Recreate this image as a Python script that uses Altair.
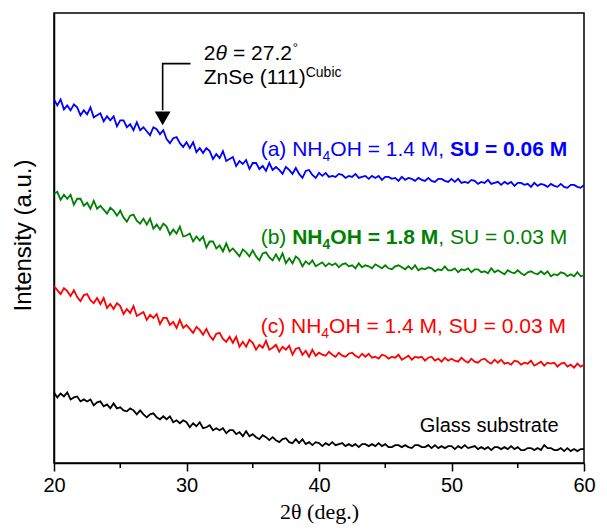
import altair as alt
import pandas as pd

# 2-theta grid (deg.), step 0.25
two_theta = [20 + 0.25 * i for i in range(161)]

blue_a = [366, 360, 366, 356, 360, 355, 361, 358, 350, 355, 351, 358, 348, 350, 352, 344,
          349, 345, 349, 339, 345, 345, 338, 341, 335, 343, 335, 338, 334, 330, 338, 336,
          331, 335, 326, 322, 327, 328, 322, 318, 323, 317, 323, 313, 317, 312, 317, 314,
          306, 311, 307, 314, 304, 306, 308, 299, 304, 301, 305, 296, 302, 302, 296, 299,
          294, 302, 295, 298, 295, 291, 298, 295, 291, 297, 291, 287, 294, 295, 290, 287,
          292, 289, 292, 288, 289, 288, 291, 290, 287, 289, 288, 291, 287, 288, 289, 286,
          289, 287, 289, 285, 288, 288, 286, 287, 284, 288, 285, 287, 286, 284, 287, 285,
          284, 287, 284, 283, 286, 286, 284, 283, 286, 283, 286, 282, 283, 282, 285, 284,
          281, 283, 282, 285, 281, 282, 283, 280, 283, 281, 283, 279, 282, 282, 280, 281,
          278, 282, 279, 281, 280, 278, 281, 279, 278, 281, 278, 277, 280, 280, 278, 277,
          280]

green_b = [271, 273, 265, 270, 266, 270, 260, 266, 266, 259, 262, 256, 264, 256, 259, 255,
           251, 257, 254, 249, 254, 247, 243, 249, 250, 244, 241, 246, 240, 246, 236, 240,
           235, 241, 238, 230, 235, 231, 238, 228, 229, 231, 223, 228, 224, 228, 217, 223,
           223, 216, 219, 213, 221, 213, 216, 212, 208, 215, 212, 208, 214, 208, 204, 211,
           212, 207, 204, 210, 204, 211, 201, 206, 201, 208, 205, 198, 203, 200, 204, 198,
           200, 202, 198, 201, 199, 201, 197, 200, 201, 198, 199, 196, 201, 197, 199, 198,
           196, 200, 198, 196, 199, 196, 195, 198, 199, 197, 195, 198, 195, 199, 194, 196,
           195, 197, 196, 193, 195, 194, 198, 194, 194, 196, 192, 195, 194, 196, 192, 195,
           195, 192, 193, 191, 196, 192, 194, 192, 190, 194, 192, 191, 194, 191, 189, 192,
           193, 191, 190, 193, 190, 193, 188, 190, 189, 192, 191, 188, 190, 188, 192, 188,
           189]

red_c = [178, 174, 170, 176, 173, 168, 174, 167, 163, 169, 170, 164, 161, 166, 160, 166,
         156, 160, 155, 161, 158, 150, 155, 151, 158, 148, 150, 152, 144, 149, 146, 150,
         140, 146, 146, 139, 142, 136, 144, 136, 139, 135, 131, 137, 134, 129, 135, 128,
         124, 130, 131, 125, 122, 127, 121, 127, 117, 122, 117, 124, 121, 114, 119, 116,
         123, 114, 116, 119, 112, 117, 114, 118, 109, 115, 116, 109, 113, 107, 114, 108,
         111, 109, 108, 112, 109, 107, 111, 108, 107, 110, 111, 108, 106, 110, 107, 110,
         106, 107, 105, 109, 108, 105, 107, 106, 109, 104, 106, 108, 104, 107, 106, 107,
         103, 106, 107, 103, 105, 102, 106, 103, 105, 103, 102, 106, 103, 101, 105, 102,
         101, 104, 105, 102, 100, 104, 101, 104, 100, 101, 99, 103, 102, 99, 101, 100,
         103, 98, 100, 102, 98, 101, 100, 101, 97, 100, 101, 97, 99, 96, 100, 97,
         99]

glass = [71, 66, 70, 67, 71, 64, 66, 67, 62, 64, 62, 64, 58, 61, 62, 57,
         59, 55, 60, 55, 56, 53, 52, 55, 53, 49, 53, 49, 46, 49, 50, 46,
         44, 47, 44, 47, 41, 43, 40, 43, 41, 36, 40, 37, 41, 35, 36, 38,
         33, 35, 33, 35, 30, 33, 33, 29, 31, 27, 32, 27, 29, 26, 24, 28,
         26, 23, 26, 23, 21, 24, 25, 21, 20, 24, 20, 24, 19, 21, 18, 21,
         20, 17, 20, 18, 21, 18, 19, 20, 17, 19, 17, 19, 16, 19, 19, 17,
         19, 17, 20, 17, 19, 16, 16, 18, 18, 16, 18, 16, 15, 18, 18, 16,
         16, 18, 15, 18, 15, 17, 15, 17, 17, 14, 17, 15, 18, 15, 16, 17,
         14, 16, 14, 16, 13, 16, 16, 14, 16, 14, 17, 14, 16, 13, 13, 15,
         15, 13, 15, 13, 18, 15, 15, 13, 13, 15, 12, 15, 12, 14, 12, 14,
         14]

series_names = ["glass", "c", "b", "a"]
series_colors = ["#000000", "#FF0000", "#008000", "#0000FF"]
series_values = [glass, red_c, green_b, blue_a]

major_ticks = [20, 30, 40, 50, 60]
minor_ticks = [25, 35, 45, 55]

rows = []
for name, vals in zip(series_names, series_values):
    for t, v in zip(two_theta, vals):
        rows.append({"x": t, "y": v, "s": name})
df = pd.DataFrame(rows)

FONT = "Liberation Sans"
W, H = 530, 450

def X():
    return alt.X("x:Q", scale=alt.Scale(domain=[20, 60], nice=False, zero=False),
                 axis=alt.Axis(values=major_ticks, format="d", tickSize=8, tickWidth=1.5,
                               tickColor="black", domainColor="black", domainWidth=1.5,
                               labelFontSize=20, labelFont=FONT, labelColor="black",
                               labelPadding=4, labelFlush=False, grid=False,
                               title="2θ (deg.)", titleFont="Liberation Serif",
                               titleFontSize=22, titleFontWeight="normal",
                               titleColor="black", titlePadding=6))

def Y():
    return alt.Y("y:Q", scale=alt.Scale(domain=[0, 453], nice=False, zero=False),
                 axis=alt.Axis(labels=False, ticks=False, grid=False, domainColor="black",
                               domainWidth=1.5, title="Intensity (a.u.)",
                               titleFont=FONT, titleFontSize=24, titleFontWeight="normal",
                               titleColor="black", titleX=-24, titleY=222, titleAngle=270,
                               titleAlign="center", titleBaseline="alphabetic"))

lines = alt.Chart(df).mark_line(strokeWidth=1.8).encode(
    x=X(), y=Y(),
    color=alt.Color("s:N", scale=alt.Scale(domain=series_names, range=series_colors), legend=None),
)

minor = alt.Chart(pd.DataFrame({"x": minor_ticks})).mark_rule(
    color="black", strokeWidth=1.5).encode(
    x=X(), y=alt.value(H), y2=alt.value(H + 5))

# arrow annotation
arrow_x = [30.3, 28.2, 28.2]
arrow_y = [402, 402, 355]
arrow_df = pd.DataFrame({"x": arrow_x, "y": arrow_y, "o": [0, 1, 2]})
arrow = alt.Chart(arrow_df).mark_line(color="black", strokeWidth=1.6).encode(
    x=X(), y=Y(), order="o:Q")
head = alt.Chart(pd.DataFrame({"x": [28.2], "y": [347]})).mark_point(
    shape="triangle-down", filled=True, size=250, color="black", opacity=1).encode(x=X(), y=Y())

# text segments: (x, y, text, dx, dy, size, weight, style, color)
ann_x, ann_y1, ann_y2 = 31.3, 406, 382
lab_x = 35.6
lab_y = {"a": 309, "b": 220, "c": 131}
segments = [
    (ann_x, ann_y1, "2", 0, 0, 21, "normal", "normal", "black"),
    (ann_x, ann_y1, "θ", 11.7, 0, 21, "normal", "italic", "black"),
    (ann_x, ann_y1, "= 27.2", 29.2, 0, 21, "normal", "normal", "black"),
    (ann_x, ann_y1, "°", 89, -8, 13, "normal", "normal", "black"),
    (ann_x, ann_y2, "ZnSe (111)", 0, 0, 21, "normal", "normal", "black"),
    (ann_x, ann_y2, "Cubic", 102, -7, 14, "normal", "normal", "black"),
    (lab_x, lab_y["a"], "(a) NH", 0, 0, 21, "normal", "normal", "#0000FF"),
    (lab_x, lab_y["a"], "4", 61.8, 5, 14, "normal", "normal", "#0000FF"),
    (lab_x, lab_y["a"], "OH = 1.4 M,", 69.6, 0, 21, "normal", "normal", "#0000FF"),
    (lab_x, lab_y["a"], "SU = 0.06 M", 189.2, 0, 21, "bold", "normal", "#0000FF"),
    (lab_x, lab_y["b"], "(b)", 0, 0, 21, "normal", "normal", "#008000"),
    (lab_x, lab_y["b"], "NH", 31.5, 0, 21, "bold", "normal", "#008000"),
    (lab_x, lab_y["b"], "4", 61.8, 5, 14, "bold", "normal", "#008000"),
    (lab_x, lab_y["b"], "OH = 1.8 M", 69.6, 0, 21, "bold", "normal", "#008000"),
    (lab_x, lab_y["b"], ", SU = 0.03 M", 177.6, 0, 21, "normal", "normal", "#008000"),
    (lab_x, lab_y["c"], "(c) NH", 0, 0, 21, "normal", "normal", "#FF0000"),
    (lab_x, lab_y["c"], "4", 60.6, 5, 14, "normal", "normal", "#FF0000"),
    (lab_x, lab_y["c"], "OH = 1.4 M, SU = 0.03 M", 68.4, 0, 21, "normal", "normal", "#FF0000"),
    (47.6, 31, "Glass substrate", 0, 0, 20, "normal", "normal", "black"),
]

texts = []
for (x, y, t, dx, dy, size, weight, style, color) in segments:
    texts.append(
        alt.Chart(pd.DataFrame({"x": [x], "y": [y], "t": [t]})).mark_text(
            align="left", baseline="alphabetic", dx=dx, dy=dy, fontSize=size,
            fontWeight=weight, fontStyle=style, color=color, font=FONT
        ).encode(x=X(), y=Y(), text="t:N")
    )

chart = alt.layer(lines, minor, arrow, head, *texts).properties(
    width=W, height=H,
    padding={"left": 46, "top": 5, "right": 15, "bottom": 61},
    autosize=alt.AutoSizeParams(type="none"),
    background="white",
).configure_view(stroke="black", strokeWidth=1.5)

chart.save("out.html", embed_options={"renderer": "svg", "actions": False})
